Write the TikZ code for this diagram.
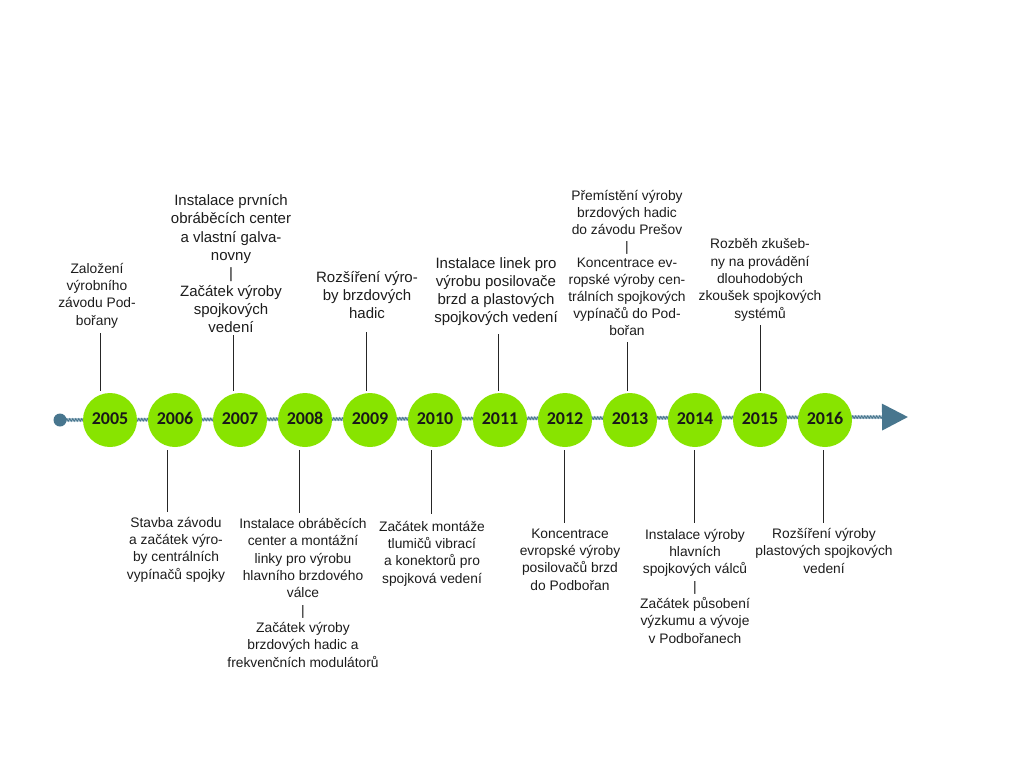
\documentclass[tikz,border=0pt]{standalone}
\usepackage{fontspec}
\setmainfont{Liberation Sans}
\newfontfamily\yearfont{Carlito}
\usetikzlibrary{positioning,arrows.meta,decorations.pathmorphing}
\definecolor{yeargreen}{RGB}{136,228,0}
\definecolor{ropelight}{RGB}{168,192,205}
\definecolor{ropedark}{RGB}{72,118,142}
\definecolor{textgray}{RGB}{28,28,28}

\begin{document}
\begin{tikzpicture}[
        x=1pt, y=-1pt,
        node distance=65pt,
    ]

    \tikzstyle{year} = [circle, fill=yeargreen, minimum size=54pt, inner sep=0pt,
                        text height=11.4pt, text depth=3pt,
                        font=\yearfont\bfseries\fontsize{18}{18}\selectfont, text=black!90]
    \tikzstyle{event} = [align=center, anchor=base, inner sep=0pt, text=textgray,
                         font=\fontsize{13.8}{17.3}\selectfont]
    \tikzstyle{bigevent} = [event, font=\fontsize{15}{18.1}\selectfont]
    \tikzstyle{tick} = [line width=1pt, black!85]

    \useasboundingbox (0,0) rectangle (1024,768);

    % Axis
    \coordinate (axisstart) at (60,420);
    \coordinate (axisbase) at (882,417);
    \coordinate (axisend) at (908,417);
    \draw[line width=3.5pt, ropelight, -{Triangle[length=26pt, width=26pt, color=ropedark]}]
        (axisstart) -- (axisend);
    \draw[line width=0.8pt, ropedark, decorate,
          decoration={zigzag, segment length=3pt, amplitude=1.3pt}] (axisstart) -- (axisbase);
    \node[circle, fill=ropedark, minimum size=13pt, inner sep=0pt] (axisdot) at (axisstart) {};

    % Nodes
    \node[year] (y2005) at (110,420) {2005};
    \node[year, right of=y2005] (y2006) {2006};
    \node[year, right of=y2006] (y2007) {2007};
    \node[year, right of=y2007] (y2008) {2008};
    \node[year, right of=y2008] (y2009) {2009};
    \node[year, right of=y2009] (y2010) {2010};
    \node[year, right of=y2010] (y2011) {2011};
    \node[year, right of=y2011] (y2012) {2012};
    \node[year, right of=y2012] (y2013) {2013};
    \node[year, right of=y2013] (y2014) {2014};
    \node[year, right of=y2014] (y2015) {2015};
    \node[year, right of=y2015] (y2016) {2016};

    % Events above the axis (placed by the baseline of their last line)
    \node[event] (ev2005) at (97,325) {Založení\\výrobního\\závodu Pod-\\bořany};
    \node[bigevent] (ev2007) at (231,332.5) {Instalace prvních\\obráběcích center\\a vlastní galva-\\novny\\|\\Začátek výroby\\spojkových\\vedení};
    \node[bigevent] (ev2009) at (367,318.5) {Rozšíření výro-\\by brzdových\\hadic};
    \node[bigevent] (ev2011) at (496,322.5) {Instalace linek pro\\výrobu posilovače\\brzd a plastových\\spojkových vedení};
    \node[event, font=\fontsize{13.8}{16.8}\selectfont] (ev2013) at (627,335) {Přemístění výroby\\brzdových hadic\\do závodu Prešov\\|\\Koncentrace ev-\\ropské výroby cen-\\trálních spojkových\\vypínačů do Pod-\\bořan};
    \node[event] (ev2015) at (760,318) {Rozběh zkušeb-\\ny na provádění\\dlouhodobých\\zkoušek spojkových\\systémů};

    % Events below the axis
    \node[event] (ev2006) at (176,579) {Stavba závodu\\a začátek výro-\\by centrálních\\vypínačů spojky};
    \node[event] (ev2008) at (303,667) {Instalace obráběcích\\center a montážní\\linky pro výrobu\\hlavního brzdového\\válce\\|\\Začátek výroby\\brzdových hadic a\\frekvenčních modulátorů};
    \node[event] (ev2010) at (432,583) {Začátek montáže\\tlumičů vibrací\\a konektorů pro\\spojková vedení};
    \node[event] (ev2012) at (570,590) {Koncentrace\\evropské výroby\\posilovačů brzd\\do Podbořan};
    \node[event] (ev2014) at (695,643) {Instalace výroby\\hlavních\\spojkových válců\\|\\Začátek působení\\výzkumu a vývoje\\v Podbořanech};
    \node[event] (ev2016) at (824,573) {Rozšíření výroby\\plastových spojkových\\vedení};

    % Ticks
    \coordinate (up2005) at (100,333);
    \coordinate (up2007) at (233.5,335);
    \coordinate (up2009) at (366.5,332);
    \coordinate (up2011) at (498,334);
    \coordinate (up2013) at (627.5,342);
    \coordinate (up2015) at (760,325);
    \draw[tick, shorten >=2pt] (up2005) -- (up2005 |- y2005.north);
    \draw[tick, shorten >=2pt] (up2007) -- (up2007 |- y2007.north);
    \draw[tick, shorten >=2pt] (up2009) -- (up2009 |- y2009.north);
    \draw[tick, shorten >=2pt] (up2011) -- (up2011 |- y2011.north);
    \draw[tick, shorten >=2pt] (up2013) -- (up2013 |- y2013.north);
    \draw[tick, shorten >=2pt] (up2015) -- (up2015 |- y2015.north);

    \coordinate (dn2006) at (167.5,512);
    \coordinate (dn2008) at (299.5,513);
    \coordinate (dn2010) at (431,514);
    \coordinate (dn2012) at (564,523);
    \coordinate (dn2014) at (694.5,523);
    \coordinate (dn2016) at (823.5,523);
    \draw[tick, shorten <=3pt] (y2006.south -| dn2006) -- (dn2006);
    \draw[tick, shorten <=3pt] (y2008.south -| dn2008) -- (dn2008);
    \draw[tick, shorten <=3pt] (y2010.south -| dn2010) -- (dn2010);
    \draw[tick, shorten <=3pt] (y2012.south -| dn2012) -- (dn2012);
    \draw[tick, shorten <=3pt] (y2014.south -| dn2014) -- (dn2014);
    \draw[tick, shorten <=3pt] (y2016.south -| dn2016) -- (dn2016);

\end{tikzpicture}
\end{document}
